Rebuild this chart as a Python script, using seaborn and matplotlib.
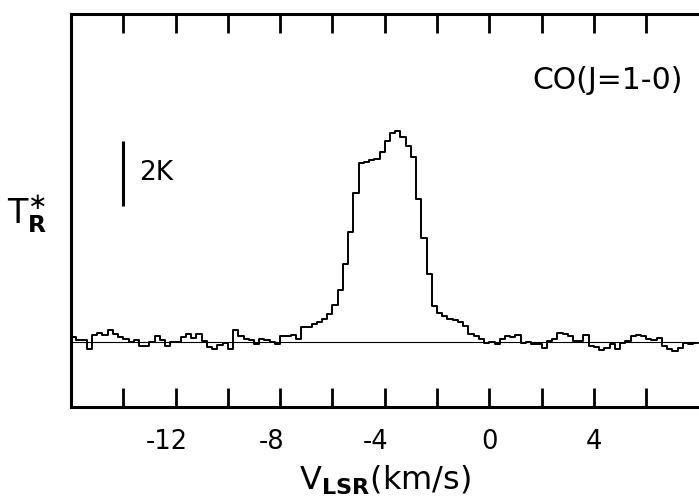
import numpy as np
import pandas as pd
import matplotlib
matplotlib.use("Agg")
import matplotlib.pyplot as plt
import matplotlib.transforms as mtransforms
import seaborn as sns

# ---- data ----
v_start = -16.0          # km/s, first channel edge
chan_width = 0.2         # km/s
t_r = [0.15, 0.07, 0.05, -0.2, 0.22, 0.28, 0.22, 0.36, 0.25, 0.17,
       0.09, 0.0, 0.05, -0.11, -0.13, 0.0, 0.2, 0.05, -0.11, 0.0,
       0.0, 0.15, 0.26, 0.12, 0.26, 0.02, -0.15, -0.22, -0.08, -0.03,
       -0.22, 0.36, 0.2, 0.09, 0.05, -0.05, 0.09, 0.05, 0.0, -0.05,
       0.2, 0.2, 0.22, 0.1, 0.45, 0.45, 0.55, 0.62, 0.7, 0.85,
       1.15, 1.6, 2.4, 3.4, 4.6, 5.5, 5.55, 5.6, 5.65, 5.85,
       6.2, 6.45, 6.5, 6.3, 6.05, 5.7, 4.4, 3.2, 2.1, 1.1,
       0.9, 0.8, 0.72, 0.68, 0.62, 0.48, 0.26, 0.2, 0.1, -0.02,
       0.0, -0.07, 0.08, 0.2, 0.15, 0.23, -0.02, 0.0, -0.05, -0.07,
       -0.18, 0.03, 0.1, 0.28, 0.25, 0.18, 0.03, 0.03, 0.23, -0.12,
       -0.15, -0.23, -0.17, -0.07, -0.22, -0.02, 0.03, 0.2, 0.23, 0.2,
       0.08, 0.06, 0.13, -0.12, -0.22, -0.28, -0.17, -0.02, -0.07, -0.04]
major_ticks = [-14, -12, -10, -8, -6, -4, -2, 0, 2, 4, 6]
tick_labels = ["", "-12", "", "-8", "", "-4", "", "0", "", "4", ""]
scale_bar = [4.2, 6.2]   # 2 K bar
scale_bar_v = -14

n = len(t_r)
edges = v_start + chan_width * np.arange(n + 1)
df = pd.DataFrame({"v": edges, "T": list(t_r) + [t_r[-1]]})

sns.set_theme(style="white")
plt.rcParams["font.family"] = ["DejaVu Sans"]
plt.rcParams["mathtext.fontset"] = "dejavusans"
plt.rcParams["axes.unicode_minus"] = False

fig = plt.figure(figsize=(6.99, 4.98), dpi=100)
ax = fig.add_axes([71 / 699, 1 - 407 / 498, 1 - 71 / 699, (407 - 14) / 498])

sns.lineplot(data=df, x="v", y="T", ax=ax, color="black", lw=1.4,
             drawstyle="steps-post", estimator=None, sort=False)
ax.axhline(0, color="black", lw=0.8)
ax.plot([scale_bar_v, scale_bar_v], scale_bar, color="black", lw=2.2,
        solid_capstyle="butt")

ax.set_xlim(-16, 8.02)
ax.set_ylim(-2, 10.1)

for side in ["left", "bottom", "top"]:
    ax.spines[side].set_visible(True)
    ax.spines[side].set_linewidth(2.2)
    ax.spines[side].set_color("black")
ax.spines["right"].set_visible(False)

ax.set_xticks(major_ticks)
ax.set_xticklabels(tick_labels)
ax.set_yticks([])
ax.tick_params(axis="x", which="major", direction="in", length=14, width=2.0,
               top=True, bottom=True, labeltop=False, labelbottom=True,
               labelsize=18.5, pad=16, color="black", labelcolor="black")

ax.set_xlabel(r"$\mathrm{V}_{\mathbf{LSR}}\mathrm{(km/s)}$", fontsize=23,
              labelpad=6, color="black")
ax.set_ylabel("")

ax.text(0.855, 0.83, "CO(J=1-0)", transform=ax.transAxes, fontsize=21.5,
        ha="center", va="center", color="black")
ax.text(0.135, 0.595, "2K", transform=ax.transAxes, fontsize=19,
        ha="center", va="center", color="black")
fig.text(27 / 699, 1 - 214 / 498, r"$\mathrm{T}_{\mathbf{R}}^{\ast}$",
         fontsize=24, ha="center", va="center", color="black")

# shift negative labels so digits centre on ticks (as in the reference)
for lab in ax.get_xticklabels():
    if lab.get_text().startswith("-"):
        lab.set_transform(lab.get_transform() +
                          mtransforms.ScaledTranslation(-0.09, 0, fig.dpi_scale_trans))

fig.savefig("out.png", dpi=100, facecolor="white")
